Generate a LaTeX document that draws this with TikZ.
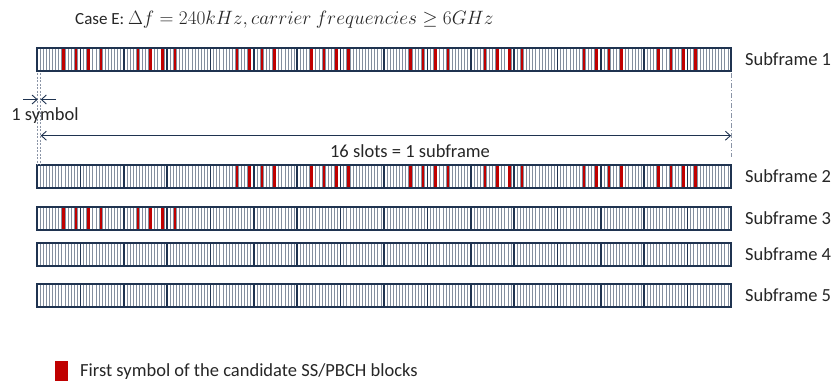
\RequirePackage{fix-cm}
\documentclass[tikz,border=0pt]{standalone}
\usepackage{fontspec}
\setmainfont{Carlito}
\usetikzlibrary{arrows.meta}
\definecolor{navyLine}{HTML}{1F3350}
\definecolor{ssbRed}{HTML}{C00000}
\definecolor{guideGray}{HTML}{8A94A6}

\begin{document}
\begin{tikzpicture}[x=1pt,y=-1pt,
  lbl/.style={font=\fontsize{18.5}{22}\selectfont,text=black!85,inner sep=0pt},
  symline/.style={draw=navyLine!55,line width=0.7pt},
  slotline/.style={draw=navyLine,line width=1.6pt},
  framebox/.style={draw=navyLine,line width=2pt},
  ssb/.style={draw=ssbRed,line width=2.6pt},
  guide/.style={draw=guideGray,line width=1pt,dash pattern=on 2pt off 1.5pt},
  guidedot/.style={draw=guideGray,line width=1pt,dash pattern=on 5pt off 2pt on 1pt off 2pt},
  dim/.style={draw=navyLine,line width=0.9pt,-{Straight Barb[length=5pt,width=9pt]}}]
  \useasboundingbox (0,0) rectangle (832,381);
  \def\slotw{43.375}
  \def\symw{3.0982}

  % title
  \node[lbl,anchor=west,font=\fontsize{17}{20}\selectfont] (title) at (75,20)
    {Case E: {\fontsize{19.3}{23}\selectfont$\Delta f = 240kHz, carrier\ frequencies \geq 6GHz$}};

  % subframes
  \foreach \yc [count=\k] in {59,176.5,218.5,254.5,295.5} {
    \fill[white] (37,\yc-11.5) rectangle (731,\yc+11.5);
    \foreach \s in {0,...,15} {
      \foreach \m in {1,...,13}
        \draw[symline] ({37+\s*\slotw+\m*\symw},\yc-11.5) -- ++(0,23);
    }
    \node[lbl,anchor=west] (sf\k) at (745,\yc) {Subframe \k};
  }

  % first symbols of the candidate blocks
  \foreach \yc/\starts in {59/{0,4,8,12},176.5/{4,8,12},218.5/{0}} {
    \foreach \g in \starts {
      \foreach \o in {8,12,16,20,32,36,40,44}
        \draw[ssb] ({37+\g*\slotw+(\o+0.6)*\symw},\yc-10.5) -- ++(0,21);
    }
  }

  % slot borders and frames
  \foreach \yc in {59,176.5,218.5,254.5,295.5} {
    \foreach \s in {1,...,15}
      \draw[slotline] ({37+\s*\slotw},\yc-11.5) -- ++(0,23);
    \draw[framebox] (37,\yc-11.5) rectangle (731,\yc+11.5);
  }

  % guides
  \coordinate (gA1) at (37.7,73);  \coordinate (gA2) at (37.7,165);
  \coordinate (gB1) at (40.7,73);  \coordinate (gB2) at (40.7,165);
  \coordinate (gC1) at (731,73);   \coordinate (gC2) at (731,157);
  \draw[guide] (gA1) -- (gA2);
  \draw[guide] (gB1) -- (gB2);
  \draw[guidedot] (gC1) -- (gC2);

  % 1 symbol
  \coordinate (symL0) at (23,99.5);  \coordinate (symL) at (37.7,99.5);
  \coordinate (symR0) at (56,99.5);  \coordinate (symR) at (40.7,99.5);
  \draw[dim] (symL0) -- (symL);
  \draw[dim] (symR0) -- (symR);
  \node[lbl] (symtxt) at (45,116) {1 symbol};

  % 16 slots
  \coordinate (spanL) at (40.7,135.7);
  \coordinate (spanR) at (731,135.7);
  \draw[dim,{Straight Barb[length=5pt,width=9pt]}-{Straight Barb[length=5pt,width=9pt]}] (spanL) -- (spanR);
  \node[lbl] (spantxt) at (410,151) {16 slots = 1 subframe};

  % legend
  \fill[ssbRed] (55,361) rectangle (68,381);
  \node[lbl,anchor=west] (legtxt) at (80,372) {First symbol of the candidate SS/PBCH blocks};
\end{tikzpicture}
\end{document}
